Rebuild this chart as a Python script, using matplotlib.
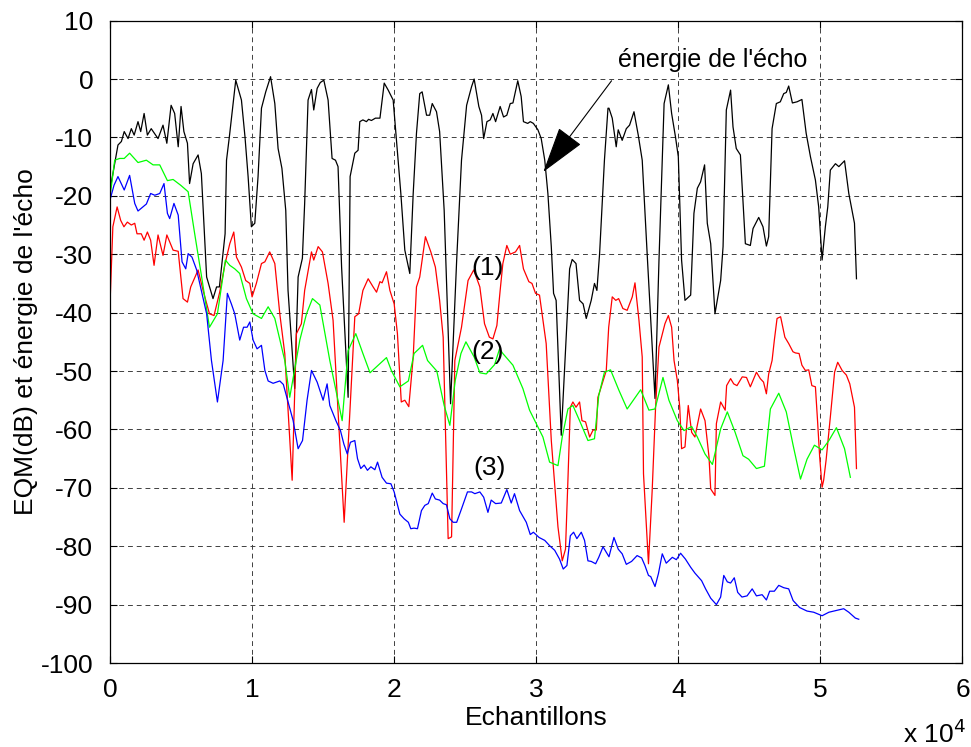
import matplotlib
matplotlib.use("Agg")
import matplotlib.pyplot as plt

plt.rcParams['font.family'] = ['Liberation Sans', 'DejaVu Sans']
plt.rcParams['axes.unicode_minus'] = False

# Abscissa in units of 1e4 samples, ordinates in dB
echo_x = [0.00, 0.056, 0.08, 0.10, 0.127, 0.15, 0.17, 0.197, 0.216, 0.24, 0.263, 0.29, 0.338, 0.373, 0.40, 0.43,
          0.455, 0.48, 0.50, 0.52, 0.545, 0.56, 0.585, 0.62, 0.643, 0.68, 0.725, 0.75, 0.77, 0.81, 0.82, 0.84,
          0.885, 0.925, 0.95, 0.972, 0.995, 1.019, 1.042, 1.066, 1.096, 1.13, 1.16, 1.183, 1.21, 1.237, 1.253,
          1.30, 1.324, 1.354, 1.37, 1.394, 1.418, 1.434, 1.458, 1.48, 1.505, 1.535, 1.563, 1.587, 1.605, 1.63,
          1.676, 1.69, 1.723, 1.746, 1.758, 1.78, 1.805, 1.82, 1.84, 1.868, 1.90, 1.93, 1.958, 1.993, 2.016,
          2.047, 2.075, 2.11, 2.134, 2.157, 2.18, 2.197, 2.228, 2.25, 2.268, 2.298, 2.32, 2.352, 2.397, 2.44,
          2.474, 2.51, 2.545, 2.563, 2.596, 2.615, 2.63, 2.653, 2.676, 2.695, 2.714, 2.746, 2.77, 2.793, 2.817,
          2.836, 2.87, 2.894, 2.91, 2.94, 2.958, 2.98, 3.012, 3.035, 3.06, 3.082, 3.106, 3.122, 3.14, 3.176,
          3.235, 3.253, 3.28, 3.305, 3.33, 3.352, 3.387, 3.41, 3.427, 3.446, 3.48, 3.505, 3.512, 3.535, 3.563,
          3.577, 3.605, 3.634, 3.657, 3.688, 3.718, 3.746, 3.782, 3.836, 3.864, 3.90, 3.93, 3.953, 3.98, 4.0,
          4.023, 4.047, 4.087, 4.11, 4.134, 4.157, 4.185, 4.204, 4.228, 4.258, 4.298, 4.315, 4.338, 4.368,
          4.385, 4.408, 4.437, 4.472, 4.507, 4.526, 4.566, 4.596, 4.62, 4.636, 4.66, 4.69, 4.718, 4.742, 4.76,
          4.777, 4.803, 4.836, 4.87, 4.90, 4.93, 4.965, 4.988, 5.012, 5.035, 5.052, 5.07, 5.106, 5.13, 5.17,
          5.20, 5.24, 5.254]
echo_db = [-19.0, -11.3, -10.7, -9.0, -10.2, -8.5, -9.6, -7.3, -9.0, -5.9, -9.6, -8.5, -10.2, -7.9, -11.0, -4.5,
           -5.9, -11.6, -4.7, -9.0, -11.0, -17.9, -14.5, -13.0, -16.2, -33.9, -37.6, -35.6, -35.6, -26.5, -13.9,
           -9.9, -0.2, -3.6, -9.9, -16.7, -25.3, -24.7, -16.7, -5.0, -2.2, 0.4, -4.2, -11.9, -15.3, -22.5, -36.2,
           -53.0, -33.9, -30.7, -21.3, -3.6, -1.8, -5.3, -1.6, -0.6, -0.2, -3.6, -13.6, -13.9, -15.0, -32.2,
           -54.5, -16.7, -12.7, -12.2, -7.3, -7.0, -7.3, -6.9, -7.1, -6.7, -6.7, -0.7, -1.9, -3.6, -10.5,
           -19.6, -29.3, -33.3, -19.6, -9.3, -2.5, -2.2, -6.2, -6.2, -4.2, -5.6, -9.0, -22.5, -55.6, -31.0,
           -13.9, -4.5, -1.3, 0.0, -4.7, -6.2, -10.2, -7.3, -7.0, -5.9, -7.3, -4.7, -6.5, -6.2, -4.2,
           -4.1, -0.3, -3.0, -7.3, -7.6, -7.3, -7.6, -8.7, -10.2, -13.9, -19.6, -28.7, -36.7, -37.9, -61.0,
           -32.5, -30.9, -31.6, -37.9, -38.5, -41.0, -37.9, -35.0, -36.2, -29.9, -13.9, -5.0, -5.0, -6.7, -11.6,
           -8.7, -10.5, -8.5, -7.9, -5.6, -9.6, -13.9, -30.5, -54.7, -31.0, -4.2, -1.0, -5.9, -9.9, -13.3,
           -31.0, -37.9, -37.0, -23.0, -18.7, -17.6, -14.7, -24.7, -28.2, -40.2, -34.5, -28.7, -5.3, -1.9,
           -8.2, -11.9, -13.0, -28.2, -28.5, -25.6, -23.7, -25.3, -28.6, -27.0, -8.5, -4.2, -3.9, -2.5, -2.3,
           -1.2, -4.1, -3.9, -3.5, -9.3, -13.3, -17.3, -21.9, -31.0, -25.3, -21.9, -15.6, -14.5, -15.0, -14.0,
           -19.6, -24.7, -34.2]

mse1_x = [0.00, 0.02, 0.05, 0.075, 0.098, 0.122, 0.15, 0.174, 0.19, 0.22, 0.24, 0.263, 0.286, 0.31, 0.338, 0.373,
          0.40, 0.444, 0.48, 0.514, 0.545, 0.568, 0.62, 0.655, 0.70, 0.732, 0.772, 0.81, 0.843, 0.871, 0.89,
          0.925, 0.955, 0.984, 1.0, 1.03, 1.066, 1.09, 1.124, 1.16, 1.195, 1.23, 1.282, 1.312, 1.347, 1.37,
          1.418, 1.434, 1.465, 1.495, 1.535, 1.57, 1.648, 1.723, 1.75, 1.78, 1.817, 1.852, 1.876, 1.90, 1.915,
          1.946, 1.97, 2.0, 2.023, 2.05, 2.075, 2.103, 2.134, 2.157, 2.18, 2.22, 2.258, 2.29, 2.32, 2.345,
          2.38, 2.404, 2.427, 2.474, 2.52, 2.56, 2.603, 2.636, 2.67, 2.695, 2.723, 2.746, 2.765, 2.793, 2.817,
          2.854, 2.883, 2.91, 2.948, 2.97, 2.995, 3.023, 3.047, 3.07, 3.106, 3.153, 3.183, 3.206, 3.223, 3.24,
          3.258, 3.28, 3.305, 3.322, 3.347, 3.376, 3.40, 3.423, 3.434, 3.45, 3.493, 3.51, 3.535, 3.56, 3.58,
          3.61, 3.64, 3.676, 3.695, 3.723, 3.746, 3.755, 3.79, 3.816, 3.84, 3.864, 3.906, 3.93, 3.953, 3.97,
          3.993, 4.01, 4.023, 4.047, 4.07, 4.094, 4.117, 4.157, 4.188, 4.216, 4.228, 4.258, 4.268, 4.298, 4.33,
          4.34, 4.368, 4.39, 4.413, 4.45, 4.48, 4.507, 4.55, 4.577, 4.60, 4.62, 4.636, 4.66, 4.676, 4.695,
          4.72, 4.75, 4.777, 4.807, 4.824, 4.85, 4.87, 4.894, 4.918, 4.94, 4.965, 4.98, 4.995, 5.012, 5.023,
          5.04, 5.07, 5.10, 5.122, 5.153, 5.183, 5.207, 5.24, 5.254]
mse1_db = [-38.5, -25.3, -21.9, -24.2, -25.3, -24.5, -25.0, -24.7, -26.5, -26.5, -27.6, -26.2, -27.6, -31.9, -26.7,
           -30.2, -26.7, -29.3, -29.5, -37.6, -38.2, -35.6, -32.7, -36.2, -40.2, -40.5, -36.5, -31.6, -28.2,
           -26.2, -30.5, -32.2, -34.5, -35.0, -37.3, -35.0, -31.6, -31.3, -29.6, -31.6, -40.2, -47.0, -68.7,
           -43.6, -41.9, -36.2, -29.6, -31.0, -28.7, -29.6, -35.0, -41.3, -75.9, -40.7, -40.2, -36.2, -34.2,
           -35.6, -36.5, -34.7, -34.9, -33.0, -36.2, -38.5, -43.6, -55.3, -55.0, -56.1, -47.6, -35.6, -33.9,
           -27.0, -29.6, -32.2, -37.9, -44.2, -78.7, -78.4, -48.2, -42.5, -34.5, -32.7, -35.6, -41.9, -44.2,
           -44.5, -42.2, -36.2, -31.6, -28.5, -30.0, -29.6, -28.5, -32.5, -34.7, -35.0, -36.7, -37.0, -41.3,
           -45.3, -61.9, -76.7, -82.5, -80.5, -68.7, -56.2, -55.3, -56.2, -55.3, -58.5, -58.7, -61.3, -60.1,
           -60.1, -54.5, -53.3, -49.9, -42.5, -37.3, -37.9, -37.6, -39.3, -39.6, -37.3, -34.9, -41.3, -47.6,
           -67.6, -83.0, -70.5, -56.2, -45.9, -41.9, -40.5, -42.5, -48.2, -51.6, -56.2, -63.3, -63.0, -55.9,
           -60.5, -61.3, -56.5, -58.5, -64.7, -70.2, -71.3, -59.0, -55.3, -56.7, -52.5, -51.3, -52.2, -52.5,
           -51.0, -51.1, -52.7, -50.2, -51.3, -51.9, -53.9, -50.5, -48.2, -44.7, -41.0, -40.7, -44.2, -45.3,
           -46.7, -46.9, -47.0, -49.0, -49.9, -49.8, -52.5, -52.7, -58.5, -64.7, -69.9, -68.7, -65.3, -57.9,
           -50.2, -48.5, -49.9, -50.7, -52.2, -56.2, -66.7]

mse2_x = [0.00, 0.033, 0.068, 0.10, 0.138, 0.197, 0.256, 0.303, 0.35, 0.404, 0.444, 0.498, 0.55, 0.596, 0.643,
          0.70, 0.756, 0.812, 0.843, 0.878, 0.913, 0.96, 1.007, 1.066, 1.113, 1.16, 1.23, 1.265, 1.336, 1.383,
          1.425, 1.477, 1.547, 1.634, 1.676, 1.73, 1.78, 1.83, 1.946, 1.98, 2.04, 2.10, 2.14, 2.20, 2.235,
          2.30, 2.352, 2.392, 2.43, 2.47, 2.505, 2.563, 2.603, 2.648, 2.707, 2.742, 2.765, 2.836, 2.906,
          2.953, 3.0, 3.047, 3.094, 3.153, 3.183, 3.223, 3.258, 3.305, 3.364, 3.41, 3.44, 3.48, 3.523, 3.582,
          3.64, 3.735, 3.793, 3.836, 3.892, 3.934, 3.993, 4.04, 4.094, 4.134, 4.188, 4.24, 4.298, 4.345,
          4.40, 4.455, 4.495, 4.55, 4.606, 4.648, 4.707, 4.76, 4.808, 4.86, 4.906, 4.958, 5.012, 5.06, 5.113,
          5.17, 5.211]
mse2_db = [-20.2, -13.9, -13.6, -13.6, -12.7, -14.3, -13.9, -14.7, -14.7, -17.4, -17.2, -18.2, -19.3, -26.5, -33.6,
           -42.5, -40.2, -31.0, -31.9, -32.5, -33.3, -37.6, -40.2, -41.0, -39.0, -41.0, -48.2, -54.5, -44.7,
           -40.2, -37.6, -38.7, -48.2, -58.5, -46.5, -43.6, -47.0, -50.3, -47.7, -49.9, -52.7, -51.7, -47.0,
           -45.6, -48.2, -50.0, -55.9, -59.3, -51.6, -47.0, -45.0, -47.6, -50.3, -50.5, -48.9, -46.2, -47.0,
           -49.0, -53.0, -56.7, -59.0, -61.3, -65.6, -66.2, -61.3, -56.5, -55.9, -58.5, -61.9, -61.6, -54.2,
           -50.2, -49.8, -53.3, -56.5, -53.2, -56.7, -56.5, -51.1, -55.0, -58.5, -60.2, -59.5, -61.3, -64.2,
           -66.0, -59.9, -57.0, -60.5, -64.5, -65.1, -66.7, -66.3, -56.5, -53.8, -57.0, -62.7, -68.5, -65.1,
           -62.7, -63.5, -61.9, -59.7, -63.3, -68.2]

mse3_x = [0.00, 0.028, 0.056, 0.10, 0.138, 0.174, 0.197, 0.256, 0.286, 0.315, 0.35, 0.38, 0.404, 0.42, 0.45, 0.48,
          0.507, 0.533, 0.55, 0.577, 0.61, 0.643, 0.68, 0.714, 0.756, 0.796, 0.826, 0.854, 0.878, 0.913, 0.94,
          0.965, 0.984, 1.007, 1.035, 1.066, 1.09, 1.113, 1.148, 1.195, 1.22, 1.253, 1.289, 1.324, 1.355,
          1.387, 1.418, 1.458, 1.50, 1.528, 1.547, 1.59, 1.622, 1.646, 1.67, 1.692, 1.723, 1.742, 1.765,
          1.789, 1.812, 1.836, 1.864, 1.883, 1.915, 1.946, 1.977, 2.0, 2.04, 2.07, 2.10, 2.117, 2.14, 2.164,
          2.192, 2.216, 2.24, 2.268, 2.29, 2.32, 2.345, 2.368, 2.392, 2.415, 2.44, 2.474, 2.516, 2.545, 2.568,
          2.603, 2.63, 2.66, 2.683, 2.714, 2.754, 2.793, 2.824, 2.847, 2.883, 2.93, 2.958, 2.98, 3.02, 3.06,
          3.094, 3.13, 3.164, 3.19, 3.216, 3.24, 3.263, 3.286, 3.317, 3.34, 3.364, 3.387, 3.418, 3.44, 3.47,
          3.50, 3.512, 3.547, 3.577, 3.605, 3.634, 3.671, 3.71, 3.742, 3.765, 3.79, 3.806, 3.836, 3.86, 3.887,
          3.915, 3.958, 3.986, 4.016, 4.05, 4.087, 4.117, 4.164, 4.192, 4.228, 4.268, 4.298, 4.32, 4.345,
          4.368, 4.394, 4.418, 4.448, 4.484, 4.52, 4.55, 4.59, 4.62, 4.643, 4.676, 4.707, 4.742, 4.777,
          4.808, 4.854, 4.906, 4.953, 5.012, 5.06, 5.113, 5.164, 5.20, 5.246, 5.27]
mse3_db = [-20.7, -18.2, -16.7, -19.0, -16.5, -21.3, -22.6, -21.4, -19.6, -19.9, -19.6, -17.9, -23.0, -23.9, -21.3,
           -23.3, -31.3, -32.5, -29.9, -30.5, -32.7, -36.2, -40.2, -48.2, -55.3, -48.2, -36.7, -38.5, -40.2,
           -44.7, -42.5, -42.5, -41.6, -44.7, -46.2, -45.6, -49.9, -51.7, -52.1, -51.7, -52.3, -55.3, -58.5,
           -63.3, -61.9, -55.0, -49.9, -51.9, -55.0, -52.2, -55.9, -58.5, -60.2, -62.5, -64.2, -62.2, -61.9,
           -65.0, -66.7, -66.1, -67.0, -66.4, -66.9, -65.6, -68.2, -69.2, -69.3, -70.7, -74.5, -75.3, -75.9,
           -77.0, -76.9, -77.0, -73.9, -73.0, -72.7, -70.9, -71.9, -72.1, -72.7, -72.9, -75.3, -75.9, -75.9,
           -73.6, -70.7, -70.7, -71.0, -70.7, -71.6, -74.2, -72.1, -72.7, -72.6, -70.3, -72.6, -71.0, -73.9,
           -75.9, -78.0, -77.6, -78.5, -79.0, -79.9, -80.7, -82.2, -83.9, -83.3, -78.2, -77.6, -78.7, -77.6,
           -79.0, -82.5, -82.6, -83.0, -81.9, -80.1, -81.3, -81.8, -78.5, -80.5, -81.3, -83.1, -82.6, -81.6,
           -82.0, -83.3, -85.0, -85.2, -86.9, -84.7, -81.3, -82.9, -81.9, -82.3, -81.2, -82.2, -83.6, -84.6,
           -85.9, -87.3, -88.9, -90.0, -88.7, -85.0, -86.1, -86.3, -85.4, -87.9, -88.7, -88.5, -87.3, -88.5,
           -88.3, -89.2, -87.7, -87.7, -86.7, -87.1, -87.3, -89.3, -90.5, -91.1, -91.3, -91.9, -91.3, -91.0,
           -90.7, -91.3, -92.3, -92.5]

x_ticks = [0, 1, 2, 3, 4, 5, 6]
y_ticks = [10, 0, -10, -20, -30, -40, -50, -60, -70, -80, -90, -100]

fig = plt.figure(figsize=(9.71, 7.47), dpi=100)
ax = fig.add_axes([0.1133, 0.1124, 0.8779, 0.8600])

lw = 0.9
ax.plot(echo_x, echo_db, color='k', lw=lw)
ax.plot(mse1_x, mse1_db, color='#ff0000', lw=lw)
ax.plot(mse2_x, mse2_db, color='#00ff00', lw=lw)
ax.plot(mse3_x, mse3_db, color='#0000ff', lw=lw)

fs = 19
ax.set_xlim(0, 6)
ax.set_ylim(-100, 10)
ax.set_xticks(x_ticks)
ax.set_yticks(y_ticks)
ax.tick_params(direction='in', length=5, labelsize=fs, width=0.8,
               top=True, right=True)
ax.tick_params(axis='x', pad=11)
ax.tick_params(axis='y', pad=12)
ax.grid(True, color='0.25', linestyle=(0, (5, 4)), linewidth=0.7)
for s in ax.spines.values():
    s.set_linewidth(0.9)

ax.set_xlabel('Echantillons', fontsize=fs, labelpad=3)
ax.set_ylabel("EQM(dB) et énergie de l'écho", fontsize=fs, labelpad=2)
fig.text(0.93, 0.006, r'x 10$^{4}$', fontsize=fs, ha='left', va='baseline')

ax.text(4.24, 3.2, "énergie de l'écho", fontsize=18, ha='center', va='center')
ax.annotate('', xy=(3.05, -15.9), xytext=(3.53, -0.3),
            arrowprops=dict(arrowstyle='-|>,head_length=1.5,head_width=0.45',
                            color='k', lw=0.8, mutation_scale=20,
                            shrinkA=0, shrinkB=0))
ax.text(2.66, -32.4, '(1)', fontsize=fs, ha='center', va='center')
ax.text(2.66, -46.7, '(2)', fontsize=fs, ha='center', va='center')
ax.text(2.67, -66.6, '(3)', fontsize=fs, ha='center', va='center')

fig.savefig('out.png', dpi=100)
